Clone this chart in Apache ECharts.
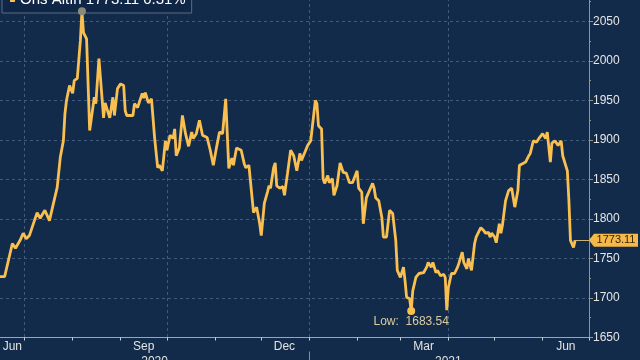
<!DOCTYPE html>
<html>
<head>
<meta charset="utf-8">
<script src="https://cdn.jsdelivr.net/npm/echarts@6/dist/echarts.min.js"></script>
<style>
html,body{margin:0;padding:0;background:#122b4a;}
#chart{width:640px;height:360px;}
</style>
</head>
<body>
<div id="chart"></div>
<script>
// ---- data ----
const seriesName = 'Ons Altın';
const changePct = '0.31%';
const axisStart = '2020-06-15';
const axisEnd = '2021-07-01';
const dates = [
'2020-06-15','2020-06-18','2020-06-19','2020-06-23','2020-06-25','2020-06-28','2020-06-30',
'2020-07-02','2020-07-04','2020-07-09','2020-07-11','2020-07-14','2020-07-17','2020-07-19','2020-07-22','2020-07-24','2020-07-26','2020-07-27','2020-07-28','2020-07-30',
'2020-08-01','2020-08-02','2020-08-04','2020-08-06','2020-08-07','2020-08-08','2020-08-10','2020-08-12','2020-08-13','2020-08-15','2020-08-16','2020-08-18','2020-08-21','2020-08-22','2020-08-25','2020-08-27','2020-08-28','2020-08-30',
'2020-09-01','2020-09-03','2020-09-04','2020-09-05','2020-09-07','2020-09-09','2020-09-10','2020-09-12','2020-09-15','2020-09-16','2020-09-17','2020-09-19','2020-09-21','2020-09-23','2020-09-25','2020-09-26','2020-09-28','2020-09-30',
'2020-10-01','2020-10-03','2020-10-05','2020-10-06','2020-10-07','2020-10-09','2020-10-11','2020-10-13','2020-10-15','2020-10-17','2020-10-18','2020-10-20','2020-10-22','2020-10-24','2020-10-27','2020-10-29','2020-10-31',
'2020-11-02','2020-11-04','2020-11-06','2020-11-08','2020-11-09','2020-11-10','2020-11-12','2020-11-13','2020-11-15','2020-11-18','2020-11-20','2020-11-21','2020-11-23','2020-11-26','2020-11-27','2020-11-28','2020-11-30',
'2020-12-01','2020-12-02','2020-12-03','2020-12-05','2020-12-06','2020-12-07','2020-12-09','2020-12-10','2020-12-11','2020-12-13','2020-12-15','2020-12-16','2020-12-18','2020-12-20','2020-12-22','2020-12-24','2020-12-26','2020-12-27','2020-12-28','2020-12-31',
'2021-01-02','2021-01-03','2021-01-05','2021-01-06','2021-01-07','2021-01-09','2021-01-10','2021-01-11','2021-01-13','2021-01-14','2021-01-16','2021-01-17','2021-01-19','2021-01-21','2021-01-23','2021-01-25','2021-01-27','2021-01-29',
'2021-02-01','2021-02-02','2021-02-04','2021-02-05','2021-02-07','2021-02-11','2021-02-12','2021-02-13','2021-02-15','2021-02-17','2021-02-18','2021-02-20','2021-02-22','2021-02-24','2021-02-26','2021-02-27',
'2021-03-01','2021-03-03','2021-03-04','2021-03-05','2021-03-07','2021-03-08','2021-03-09','2021-03-11','2021-03-13','2021-03-16','2021-03-18','2021-03-19','2021-03-21','2021-03-22','2021-03-24','2021-03-25','2021-03-27','2021-03-29','2021-03-30','2021-03-31',
'2021-04-01','2021-04-03','2021-04-05','2021-04-07','2021-04-08','2021-04-10','2021-04-11','2021-04-13','2021-04-14','2021-04-16','2021-04-18','2021-04-19','2021-04-20','2021-04-22','2021-04-24','2021-04-25','2021-04-27','2021-04-28','2021-04-29',
'2021-05-01','2021-05-02','2021-05-04','2021-05-05','2021-05-06','2021-05-08','2021-05-10','2021-05-12','2021-05-14','2021-05-16','2021-05-17','2021-05-19','2021-05-21','2021-05-23','2021-05-24','2021-05-26','2021-05-28','2021-05-30',
'2021-06-01','2021-06-03','2021-06-04','2021-06-06','2021-06-07','2021-06-09','2021-06-11','2021-06-13','2021-06-14','2021-06-17','2021-06-18','2021-06-19','2021-06-21','2021-06-22'
];
const prices = [
1727,1727,1725,1769,1763,1773,1782,
1775,1779,1808,1801,1811,1798,1815,1840,1878,1899,1933,1950,1969,
1959,1975,1978,2026,2063,2036,2028,1912,1914,1954,1946,2003,1928,1947,1928,1954,1931,1965,
1971,1969,1937,1931,1931,1931,1946,1941,1959,1953,1960,1947,1952,1903,1865,1868,1861,1899,
1887,1906,1902,1914,1880,1890,1931,1908,1892,1910,1902,1908,1925,1906,1903,1887,1868,
1890,1910,1908,1952,1950,1864,1877,1868,1890,1887,1870,1865,1868,1808,1807,1815,1794,
1779,1781,1820,1834,1842,1839,1865,1871,1842,1839,1841,1830,1858,1887,1880,1861,1883,1874,1876,1893,
1899,1899,1950,1946,1918,1914,1851,1845,1855,1846,1851,1830,1842,1871,1859,1858,1846,1846,
1861,1839,1834,1794,1827,1845,1839,1827,1823,1802,1777,1777,1811,1807,1773,1735,
1726,1739,1722,1701,1699,1683.54,1709,1726,1731,1732,1739,1745,1739,1745,1732,1735,1728,1730,1726,1684.5,
1713,1731,1731,1739,1745,1758,1745,1737,1750,1735,1769,1777,1775,1789,1785,1782,1783,1777,1782,
1777,1770,1794,1782,1792,1823,1836,1839,1815,1836,1868,1870,1872,1880,1883,1899,1897,1903,
1908,1902,1910,1872,1896,1899,1893,1899,1880,1861,1823,1773,1764,1773.11
];
const monthLabelDates = ['2020-06-23','2020-09-16','2020-12-16','2021-03-16','2021-06-16'];
const monthLabelTexts = ['Jun','Sep','Dec','Mar','Jun'];
const yearLabelDates = ['2020-09-23','2021-04-01'];
const yearLabelTexts = ['2020','2021'];
const yearBoundary = '2021-01-01';
const gridMonths = ['01','04','07','10'];
const yTicks = ['1650','1700','1750','1800','1850','1900','1950','2000','2050'];

// ---- axis categories (every calendar day) ----
const axisDays = [];
{
  const d = new Date(axisStart + 'T00:00:00Z');
  const end = new Date(axisEnd + 'T00:00:00Z');
  while (d <= end) { axisDays.push(d.toISOString().slice(0, 10)); d.setUTCDate(d.getUTCDate() + 1); }
}
const lastDate = dates[dates.length - 1];
const lastValue = prices[prices.length - 1];
const seriesData = dates.map((d, i) => [d, prices[i]]);

const FONT = 'Liberation Sans, Arial, sans-serif';
const GOLD = '#f9bf50';
const TAG = '#f5b94a';
const GRID_LINE = '#425b7c';

const chart = echarts.init(document.getElementById('chart'));
chart.setOption({
  animation: false,
  backgroundColor: '#122b4a',
  textStyle: { fontFamily: FONT },
  legend: {
    left: 2, top: -13,
    padding: [5, 6, 6, 8],
    backgroundColor: '#0f2646',
    borderColor: '#5c6c82', borderWidth: 1,
    icon: 'rect', itemWidth: 5, itemHeight: 5,
    textStyle: { color: '#ffffff', fontSize: 15, fontFamily: FONT },
    formatter: name => name + ' ' + lastValue + ' ' + changePct,
    data: [seriesName]
  },
  grid: { left: 0, right: 51, top: -2, bottom: 22.5, containLabel: false, outerBoundsMode: 'none' },
  xAxis: [{
    type: 'category', data: axisDays, boundaryGap: false,
    axisLine: { show: true, lineStyle: { color: '#9aa6b6', width: 1 } },
    axisTick: { show: true, length: 3, lineStyle: { color: '#c8ccd2' },
      interval: (i, v) => v.slice(8) === '01' },
    axisLabel: { show: true, color: '#e2e2e2', fontSize: 12, margin: 3,
      interval: (i, v) => monthLabelDates.indexOf(v) >= 0,
      formatter: v => monthLabelTexts[monthLabelDates.indexOf(v)] },
    splitLine: { show: true, lineStyle: { color: GRID_LINE, type: [3, 3], width: 1 },
      interval: (i, v) => v.slice(8) === '01' && gridMonths.indexOf(v.slice(5, 7)) >= 0 }
  }, {
    type: 'category', data: axisDays, boundaryGap: false, position: 'bottom', offset: 14,
    axisLine: { show: false },
    axisTick: { show: true, length: 10, lineStyle: { color: '#8090a8' },
      interval: (i, v) => v === yearBoundary },
    axisLabel: { show: true, color: '#e2e2e2', fontSize: 12, margin: 4,
      interval: (i, v) => yearLabelDates.indexOf(v) >= 0,
      formatter: v => yearLabelTexts[yearLabelDates.indexOf(v)] },
    splitLine: { show: false }
  }],
  yAxis: {
    type: 'value', position: 'right', min: 1650, max: 2079.7, interval: 50,
    axisLine: { show: true, lineStyle: { color: '#9b9477', width: 1 } },
    axisTick: { show: true, length: 4, lineStyle: { color: '#9b9477' } },
    minorTick: { show: true, splitNumber: 2, length: 2, lineStyle: { color: '#9b9477' } },
    axisLabel: { color: '#e6e6e6', fontSize: 12, margin: 4, showMaxLabel: false,
      formatter: v => (yTicks.indexOf(String(v)) >= 0 ? String(v) : '') },
    splitLine: { show: true, lineStyle: { color: GRID_LINE, type: [3, 3], width: 1 } }
  },
  series: [{
    name: seriesName, type: 'line', data: seriesData,
    xAxisIndex: 0, yAxisIndex: 0, clip: false,
    showSymbol: false, symbol: 'none',
    color: GOLD,
    lineStyle: { color: GOLD, width: 2.8 },
    markPoint: {
      silent: true,
      data: [
        { type: 'max', symbol: 'circle', symbolSize: 8, itemStyle: { color: '#8c8a76' }, label: { show: false } },
        { type: 'min', symbol: 'circle', symbolSize: 8, itemStyle: { color: GOLD },
          label: { show: true, position: 'bottom', distance: 1, color: '#dccb9e', fontSize: 12,
            formatter: p => 'Low:  ' + p.value } },
        { coord: [axisEnd, lastValue], symbol: 'triangle', symbolRotate: 90, symbolSize: [13, 5],
          symbolOffset: [2.5, 0], itemStyle: { color: TAG }, label: { show: false } },
        { coord: [axisEnd, lastValue], value: lastValue, symbol: 'rect', symbolSize: [44, 13],
          symbolOffset: [27, 0], itemStyle: { color: TAG },
          label: { show: true, position: 'inside', color: '#3a2400', fontSize: 11,
            textBorderWidth: 0, formatter: String(lastValue) } }
      ]
    },
    markLine: {
      silent: true, symbol: ['none', 'none'],
      lineStyle: { color: '#c9b27a', width: 1, type: 'solid' },
      label: { show: false },
      data: [[{ coord: [lastDate, lastValue] }, { coord: [axisEnd, lastValue] }]]
    }
  }]
});
</script>
</body>
</html>
